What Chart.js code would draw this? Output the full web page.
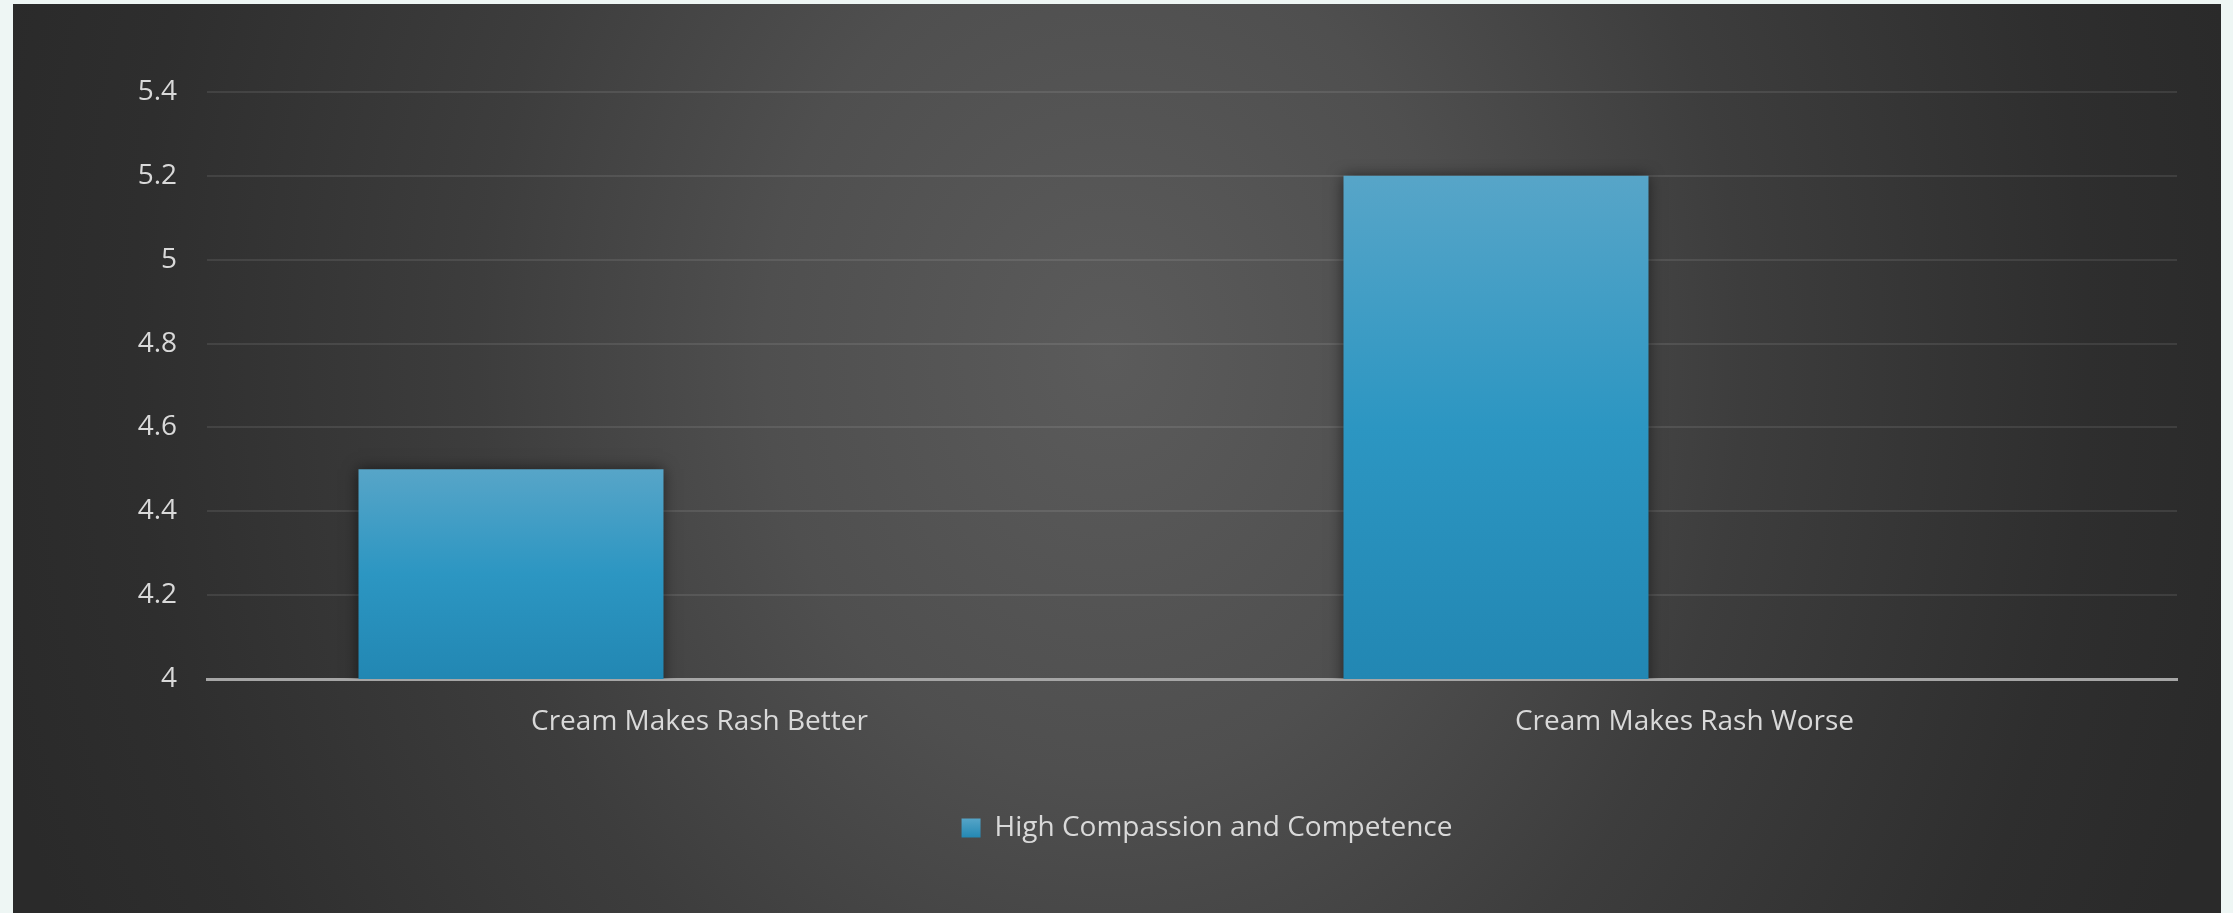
<!DOCTYPE html>
<html>
<head>
<meta charset="utf-8">
<script src="https://cdn.jsdelivr.net/npm/chart.js@4/dist/chart.umd.min.js"></script>
<style>
  html, body { margin: 0; padding: 0; background: #eef6f4; width: 2233px; height: 913px; overflow: hidden; }
  #panel {
    position: absolute; left: 13px; top: 4px; width: 2208px; height: 909px;
    background: radial-gradient(ellipse 1150px 1400px at 1097px 352px, #5b5b5b 0%, #4f4f4f 30%, #3d3d3d 55%, #2e2e2e 85%, #2a2a2a 100%);
  }
</style>
</head>
<body>
<div id="panel"><canvas id="js-chart" width="2208" height="909"></canvas></div>
<script>
const categories = ['Cream Makes Rash Better', 'Cream Makes Rash Worse'];
const seriesName = 'High Compassion and Competence';
const seriesValues = [4.5, 5.2];
// empty second slot in each group, keeps the bar left of center
const spacerValues = [null, null];
const yMin = 4;
const yMax = 5.4;
const yStep = 0.2;

const TEXT = '#d9d9d9';
const FONT = { family: "'Open Sans', sans-serif", size: 28 };
const LEGEND_SHIFT = 112;

// градиент столбика от его верха до оси
function barFill(context) {
  const chart = context.chart;
  const y = chart.scales.y;
  if (!chart.chartArea || !y || context.raw == null) return '#2b95c1';
  const top = y.getPixelForValue(context.raw);
  const bottom = y.getPixelForValue(yMin);
  const g = chart.ctx.createLinearGradient(0, top, 0, bottom);
  g.addColorStop(0, '#57a5c8');
  g.addColorStop(0.5, '#2c96c2');
  g.addColorStop(1, '#2287b3');
  return g;
}

// тень под столбиками
const barShadow = {
  id: 'barShadow',
  beforeDatasetsDraw(chart) {
    const ctx = chart.ctx;
    ctx.save();
    ctx.shadowColor = 'rgba(0, 0, 0, 0.55)';
    ctx.shadowBlur = 14;
  },
  afterDatasetsDraw(chart) {
    chart.ctx.restore();
  },
};

// сдвигаем легенду вправо, как в исходной диаграмме
const legendShift = {
  id: 'legendShift',
  afterLayout(chart) {
    if (!chart.legend) return;
    chart.legend.left += LEGEND_SHIFT;
    chart.legend.right += LEGEND_SHIFT;
  },
};

const ctx = document.querySelector('#js-chart').getContext('2d');

// маленький градиент для квадратика легенды
const legendFill = ctx.createLinearGradient(0, 814, 0, 834);
legendFill.addColorStop(0, '#57a5c8');
legendFill.addColorStop(1, '#2287b3');

new Chart(ctx, {
  type: 'bar',
  data: {
    labels: categories,
    datasets: [
      {
        label: seriesName,
        data: seriesValues,
        backgroundColor: barFill,
        borderWidth: 0,
        barPercentage: 0.809,
        categoryPercentage: 0.7655,
      },
      {
        label: '',
        data: spacerValues,
        backgroundColor: 'rgba(0,0,0,0)',
        barPercentage: 0.809,
        categoryPercentage: 0.7655,
      },
    ],
  },
  plugins: [barShadow, legendShift],
  options: {
    responsive: false,
    animation: false,
    layout: { padding: { top: 88, right: 44, bottom: 61, left: 0 } },
    plugins: {
      tooltip: { enabled: false },
      legend: {
        position: 'bottom',
        labels: {
          color: TEXT,
          font: FONT,
          boxWidth: 19,
          boxHeight: 19,
          padding: 10,
          generateLabels: () => [{
            text: seriesName,
            fillStyle: legendFill,
            strokeStyle: 'rgba(0,0,0,0)',
            lineWidth: 0,
            fontColor: TEXT,
            datasetIndex: 0,
          }],
        },
      },
    },
    scales: {
      x: {
        z: 1,
        grid: { display: false, drawTicks: false },
        border: { display: true, color: '#a6a6a6', width: 3 },
        ticks: { color: TEXT, font: FONT, padding: 26, maxRotation: 0 },
        afterFit: scale => { scale.height = 125; },
      },
      y: {
        min: yMin,
        max: yMax,
        grid: { color: 'rgba(255, 255, 255, 0.09)', lineWidth: 2, drawTicks: false },
        border: { display: false },
        ticks: {
          stepSize: yStep,
          color: TEXT,
          font: FONT,
          padding: 30,
          callback: v => String(Math.round(v * 10) / 10),
        },
        afterFit: scale => { scale.width = 194; },
      },
    },
  },
});
</script>
</body>
</html>
